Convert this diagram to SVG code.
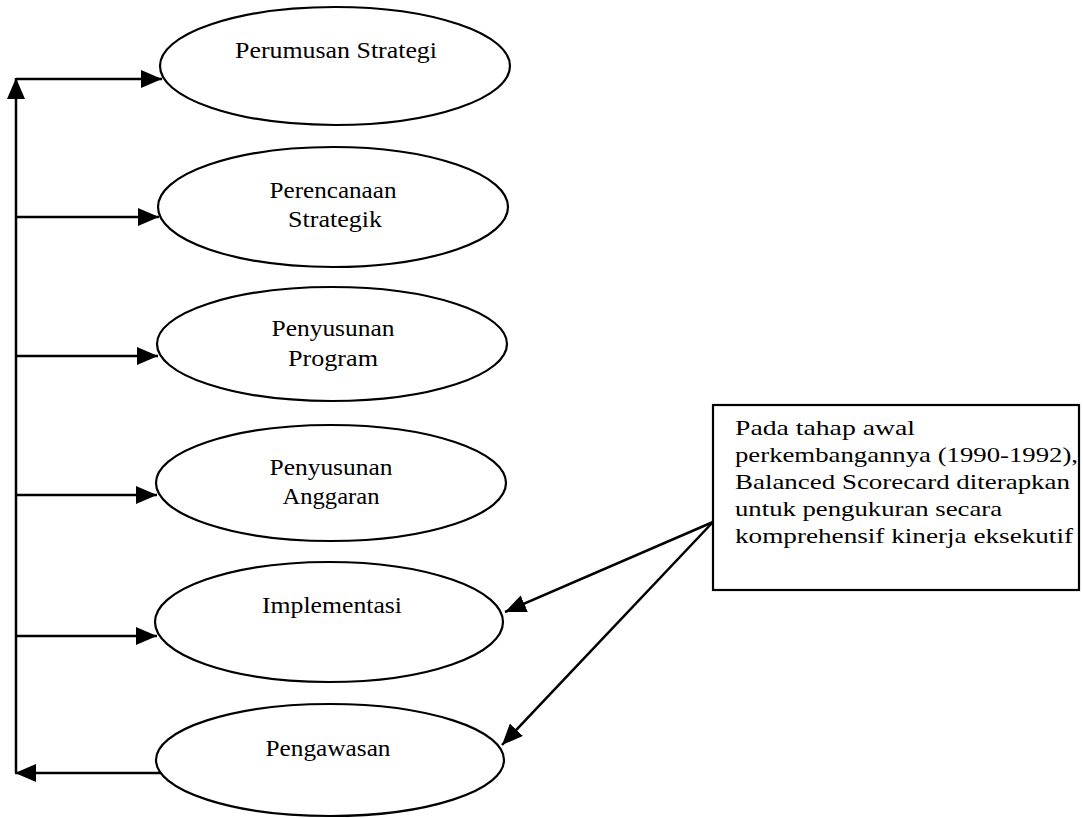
<svg xmlns="http://www.w3.org/2000/svg" width="1083" height="818" viewBox="0 0 1083 818">
<style>
.node ellipse{fill:#fff;stroke:#000;stroke-width:2.2}
.lbl{font-family:"Liberation Serif","Times New Roman",serif;font-size:23px;fill:#000;text-anchor:middle}
.box{font-family:"Liberation Serif","Times New Roman",serif;font-size:21px;fill:#000}
.conn line{stroke:#000;stroke-width:2.5;fill:none}
</style>
<defs>
<marker id="ah" markerUnits="userSpaceOnUse" markerWidth="22" markerHeight="18" refX="21" refY="9" orient="auto">
<path d="M0,0 L21,9 L0,18 z" fill="#000"/>
</marker>
</defs>
<rect width="1083" height="818" fill="#fff"/>
<g id="n1" class="node"><ellipse cx="335" cy="66" rx="175" ry="59"/>
<text class="lbl" x="336" y="58" textLength="202" lengthAdjust="spacingAndGlyphs">Perumusan Strategi</text></g>
<g id="n2" class="node"><ellipse cx="333" cy="207" rx="175" ry="60"/>
<text class="lbl" x="333" y="198" textLength="127" lengthAdjust="spacingAndGlyphs">Perencanaan</text>
<text class="lbl" x="335" y="227" textLength="94" lengthAdjust="spacingAndGlyphs">Strategik</text></g>
<g id="n3" class="node"><ellipse cx="332" cy="344" rx="175" ry="57"/>
<text class="lbl" x="333" y="336" textLength="123" lengthAdjust="spacingAndGlyphs">Penyusunan</text>
<text class="lbl" x="333" y="366" textLength="90" lengthAdjust="spacingAndGlyphs">Program</text></g>
<g id="n4" class="node"><ellipse cx="331" cy="483" rx="175" ry="58"/>
<text class="lbl" x="331" y="475" textLength="123" lengthAdjust="spacingAndGlyphs">Penyusunan</text>
<text class="lbl" x="331" y="504" textLength="97" lengthAdjust="spacingAndGlyphs">Anggaran</text></g>
<g id="n5" class="node"><ellipse cx="329" cy="622" rx="174" ry="60"/>
<text class="lbl" x="332" y="613" textLength="140" lengthAdjust="spacingAndGlyphs">Implementasi</text></g>
<g id="n6" class="node"><ellipse cx="330" cy="760" rx="174" ry="56"/>
<text class="lbl" x="328" y="756" textLength="125" lengthAdjust="spacingAndGlyphs">Pengawasan</text></g>
<g id="note">
<rect x="713" y="405" width="366" height="185" fill="#fff" stroke="#000" stroke-width="2.2"/>
<text class="box" x="735" y="435" textLength="180" lengthAdjust="spacingAndGlyphs">Pada tahap awal</text>
<text class="box" x="735" y="462" textLength="343" lengthAdjust="spacingAndGlyphs">perkembangannya (1990-1992),</text>
<text class="box" x="735" y="489" textLength="335" lengthAdjust="spacingAndGlyphs">Balanced Scorecard diterapkan</text>
<text class="box" x="735" y="516" textLength="267" lengthAdjust="spacingAndGlyphs">untuk pengukuran secara</text>
<text class="box" x="735" y="543" textLength="338" lengthAdjust="spacingAndGlyphs">komprehensif kinerja eksekutif</text>
</g>
<g id="connectors" class="conn">
<line x1="16" y1="773" x2="16" y2="78" marker-end="url(#ah)"/>
<line x1="16" y1="79" x2="162" y2="79" marker-end="url(#ah)"/>
<line x1="16" y1="217" x2="159" y2="217" marker-end="url(#ah)"/>
<line x1="16" y1="356" x2="158" y2="356" marker-end="url(#ah)"/>
<line x1="16" y1="495" x2="157" y2="495" marker-end="url(#ah)"/>
<line x1="16" y1="636" x2="157" y2="636" marker-end="url(#ah)"/>
<line x1="161" y1="773" x2="15" y2="773" marker-end="url(#ah)"/>
<line x1="713" y1="522" x2="505" y2="612" marker-end="url(#ah)"/>
<line x1="713" y1="522" x2="502" y2="745" marker-end="url(#ah)"/>
</g>
</svg>
